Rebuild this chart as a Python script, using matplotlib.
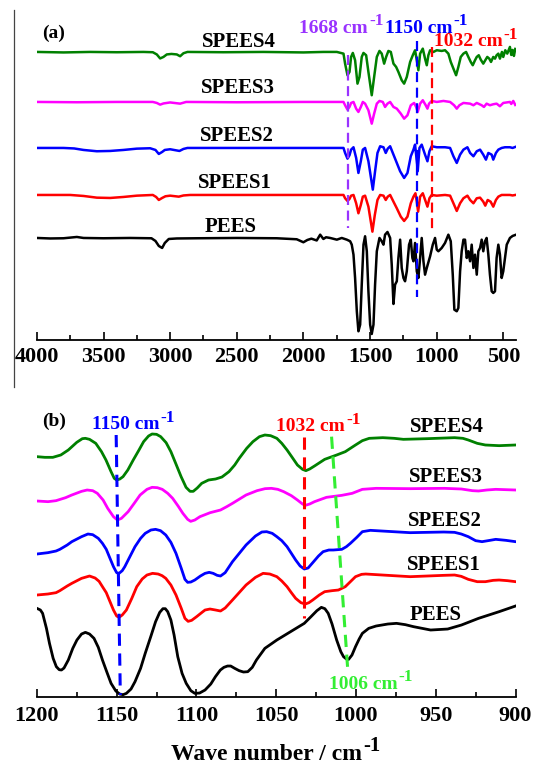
import matplotlib
matplotlib.use('Agg')
import matplotlib.pyplot as plt
import numpy as np
from matplotlib.lines import Line2D
from matplotlib.ticker import MultipleLocator

plt.rcParams['font.family'] = ['Liberation Serif', 'DejaVu Serif']
plt.rcParams['font.weight'] = 'bold'
plt.rcParams['axes.labelweight'] = 'bold'

# ---------------- panel (a): 4000-400 cm-1, (wavenumber, depth below baseline) ----------------
SPEES4_A = [
    (4000, 0), (3800, 0.5), (3600, 0), (3400, 0.3), (3200, 0), (3130, 0.3), (3100, 2.5), (3075, 6.5),
    (3050, 5), (3025, 2.5), (2990, 2), (2950, 2.5), (2925, 4.3), (2900, 1.3), (2870, 0), (2600, 0.3),
    (2300, 0), (2000, 0.5), (1850, 0), (1749, 0), (1699, 1.7), (1687, 11.7), (1669, 23.3), (1654, 20),
    (1642, 5), (1629, 1), (1612, 8.3), (1594, 31.7), (1579, 25), (1562, 5), (1549, 1), (1529, 3.3),
    (1512, 20), (1487, 43.3), (1469, 25), (1449, 5), (1429, -1), (1412, 1.7), (1394, 11.7), (1379, 5),
    (1362, -1), (1344, 0), (1324, 11.7), (1304, 15), (1287, 20), (1262, 28.3), (1244, 31.7), (1224, 25),
    (1199, 10), (1179, 3.3), (1162, -1.7), (1149, 8.3), (1137, 18.3), (1124, 1.7), (1104, -3.3),
    (1087, 6.7), (1074, 13.3), (1062, 3.3), (1049, -1.7), (1024, 0), (999, -1.7), (962, -1), (937, -1.7),
    (912, 1.7), (894, 10), (874, 16.7), (854, 23.3), (837, 15), (819, 5), (799, 1.7), (779, 0), (762, 5),
    (744, 10), (729, 13.3), (712, 8.3), (699, 5), (684, 3.3), (669, 7.7), (650, 11.7), (635, 8.3),
    (620, 5), (605, 6.7), (592, 10), (575, 5), (562, 6.7), (550, 3.3), (537, 1.7), (525, 6.7), (510, 0),
    (500, 5), (485, -1.7), (470, 1.7), (450, -5), (440, 3), (430, -2), (420, 4), (410, -3),
]
SPEES3_A = [
    (4000, 0), (3700, 0.3), (3400, 0), (3130, 0), (3100, 1), (3075, 2.7), (3050, 1.5), (3000, 0.5),
    (2925, 1.7), (2880, 0), (2500, 0.3), (2000, 0), (1800, 0), (1699, 0), (1687, 3.3), (1669, 7.7),
    (1654, 5), (1642, 1), (1624, 0), (1604, 6.7), (1587, 10), (1569, 5), (1554, 0), (1537, 1.7),
    (1512, 8.3), (1487, 21.7), (1469, 11.7), (1449, 1.7), (1429, -1), (1404, 0), (1387, 5), (1369, 1.7),
    (1349, 0), (1324, 5), (1299, 6.7), (1269, 11.7), (1244, 16.7), (1219, 13.3), (1194, 3.3), (1169, 1),
    (1154, 5), (1142, 10), (1124, 1.7), (1104, -1.7), (1082, 3.3), (1069, 6.7), (1057, 1.7), (1037, -1),
    (999, 0), (949, -1), (899, 0), (869, 3.3), (849, 6.7), (829, 3.3), (799, 1), (749, 1.7), (724, 3.3),
    (699, 1), (662, 3.3), (645, 5), (625, 1.7), (600, 3.3), (575, 2.3), (550, 1.7), (525, 4.3), (500, 1),
    (450, 0), (440, 2), (425, -1), (410, 3),
]
SPEES2_A = [
    (4000, 0), (3800, 0), (3720, 0.5), (3650, 2), (3550, 3.3), (3450, 3), (3350, 2), (3250, 0.7),
    (3150, 0.3), (3110, 2), (3085, 6), (3060, 4), (3040, 2), (3000, 1.3), (2930, 3), (2900, 1), (2870, 0),
    (2500, 0), (2000, 0), (1800, 0), (1699, 0), (1687, 5), (1669, 10.7), (1654, 7.3), (1642, 1.7),
    (1624, -0.7), (1604, 10), (1587, 25), (1569, 13.3), (1554, 1.7), (1537, 0), (1512, 13.3), (1479, 41.7),
    (1462, 23.3), (1444, 5), (1424, -1.7), (1399, -0.7), (1382, 5), (1367, 0.7), (1349, -1.7), (1329, 5),
    (1304, 13.3), (1274, 23.3), (1244, 30), (1219, 25), (1194, 8.3), (1174, 1.7), (1162, -3.3), (1154, 6.7),
    (1142, 23.3), (1129, 0), (1112, -3.3), (1087, 6.7), (1069, 13.3), (1054, 3.3), (1037, -1.7), (999, -0.7),
    (937, -0.7), (899, 0), (874, 8.3), (849, 15), (824, 6.7), (799, 1.7), (769, -0.7), (749, 5), (724, 8.3),
    (699, 3.3), (674, 1.7), (650, 6.7), (630, 11.7), (612, 5), (587, 6.7), (575, 11.7), (555, 5), (537, 1.7),
    (512, 0), (487, -0.7), (450, -0.7), (430, 0), (410, -1),
]
SPEES1_A = [
    (4000, 0), (3750, 0), (3650, 1), (3550, 2.7), (3450, 3), (3350, 2), (3250, 0.7), (3130, 0), (3105, 2),
    (3085, 5), (3060, 3), (3035, 1.3), (3000, 0.7), (2935, 1.7), (2900, 0.5), (2850, 0), (2500, 0), (2000, 0),
    (1800, 0), (1699, 0), (1687, 3.3), (1669, 6), (1654, 4), (1642, 0.7), (1624, 0), (1604, 8.3), (1587, 18.3),
    (1569, 10), (1554, 1.7), (1537, 0.7), (1512, 11.7), (1482, 36.7), (1464, 20), (1444, 5), (1424, 0),
    (1399, 0.7), (1382, 5), (1367, 1.7), (1349, 0), (1324, 6.7), (1299, 13.3), (1269, 21.7), (1244, 26),
    (1219, 21.7), (1194, 8.3), (1174, 1.7), (1159, -1.7), (1149, 6.7), (1139, 16.7), (1124, 1.7), (1104, -1.7),
    (1082, 6.7), (1069, 11.7), (1054, 3.3), (1037, 0), (999, 0.7), (937, 0), (899, 0.7), (874, 8.3), (849, 16),
    (824, 8.3), (799, 3.3), (769, 0.7), (749, 5), (724, 8.3), (699, 3.3), (674, 2.7), (650, 6.7), (635, 10.7),
    (617, 5), (595, 6.7), (575, 11.7), (555, 5), (537, 1.7), (512, 0), (450, 0), (430, 0.5), (410, 0),
]
PEES_A = [
    (4000, 0), (3900, 0.5), (3800, 0.3), (3700, -1), (3650, 0), (3500, 0.3), (3300, 0), (3140, 0.3),
    (3110, 3), (3085, 8), (3060, 10), (3040, 5), (3010, 1), (2950, 0.5), (2800, 0.3), (2500, 0), (2200, 0.3),
    (2050, 1.3), (2000, 4.3), (1970, 2), (1940, 0.7), (1900, 2.5), (1874, -3.3), (1850, 1), (1830, -0.7),
    (1799, 0), (1749, 1.7), (1712, 0), (1674, 1.7), (1649, 3.3), (1637, 6.7), (1624, 16.7), (1612, 40),
    (1599, 73.3), (1587, 93.3), (1574, 86.7), (1562, 46.7), (1549, 6.7), (1537, -1.7), (1524, 13.3),
    (1512, 53.3), (1499, 86.7), (1487, 96), (1474, 86.7), (1462, 46.7), (1449, 13.3), (1429, 0), (1412, 3.3),
    (1399, 6.7), (1387, -3.3), (1369, -6), (1349, 0), (1337, 26.7), (1324, 66), (1312, 46.7), (1299, 43.3),
    (1287, 20), (1274, 1.7), (1262, 30), (1249, 40), (1237, 43.3), (1224, 33.3), (1207, 6.7), (1194, 1.7),
    (1182, 20), (1174, 23.3), (1162, 5), (1149, 33.3), (1137, 40), (1124, 20), (1112, 0), (1099, 23.3),
    (1087, 36.7), (1074, 30), (1049, 18.3), (1029, 6.7), (1012, 0), (999, 11.7), (987, 13.3), (962, 10),
    (937, 5), (912, -3.3), (894, 3.3), (879, 36.7), (867, 71.7), (849, 73.3), (837, 70), (824, 33.3),
    (812, 13.3), (799, 1.7), (787, 1.7), (774, 20), (762, 13.3), (749, 23.3), (737, 6.7), (724, 30),
    (712, 16.7), (699, 36.7), (687, 13.3), (674, 10), (662, 1.7), (650, 13.3), (637, 3.3), (625, 0),
    (612, 16.7), (600, 36.7), (587, 53.3), (575, 55), (562, 53.3), (550, 20), (537, 6.7), (525, 16.7),
    (512, 40), (500, 33.3), (487, 20), (474, 6.7), (450, 0), (430, -2), (410, -3),
]
A_SPECTRA = [SPEES4_A, SPEES3_A, SPEES2_A, SPEES1_A, PEES_A]
A_OFFSETS = [288, 238, 192, 145, 102]

# ---------------- panel (b): 1200-900 cm-1, (wavenumber, intensity) ----------------
SPEES4_B = [
    (1200, 72.0), (1195, 71.8), (1190, 71.8), (1185, 72.5), (1180.3, 74.0), (1175, 76.3), (1171.5, 77.4),
    (1169.6, 77.5), (1167, 77.2), (1163.1, 76.0), (1159.5, 73.5), (1156.7, 71.0), (1153.5, 67.5),
    (1151.5, 65.5), (1150, 65.0), (1148, 65.3), (1146, 66.0), (1143, 68.0), (1139.6, 71.0), (1136, 74.0),
    (1133.1, 76.5), (1130, 78.2), (1127.8, 78.8), (1125, 78.7), (1122.4, 78.0), (1119, 76.2), (1116, 73.5),
    (1113, 70.0), (1109.6, 66.0), (1106.5, 62.8), (1104, 61.6), (1102, 61.6), (1099.5, 62.6), (1096.7, 64.0),
    (1092.4, 65.0), (1088, 65.3), (1084, 65.9), (1079.6, 67.5), (1076, 69.5), (1073.2, 71.5), (1068.5, 74.5),
    (1064.6, 76.5), (1060.5, 78.0), (1057.1, 78.5), (1053.5, 78.3), (1049.6, 77.5), (1046.5, 76.0),
    (1043.2, 74.0), (1040, 71.8), (1036.7, 69.5), (1033.5, 68.2), (1031.4, 67.8), (1029, 68.3), (1026, 69.2),
    (1019.6, 71.2), (1012.1, 72.5), (1006.7, 73.5), (1003.5, 74.5), (1000.3, 75.5), (996, 76.8),
    (991.7, 77.5), (983.2, 77.7), (976, 77.5), (970.3, 77.2), (955.3, 77.4), (938.2, 77.7), (933, 77.5),
    (929.6, 77.0), (924, 76.0), (918.9, 75.5), (910.3, 75.3), (900, 75.5),
]
SPEES3_B = [
    (1200, 58.7), (1193, 58.5), (1188, 58.8), (1182, 59.7), (1178.1, 60.5), (1172, 61.6), (1168.5, 62.0),
    (1165, 61.8), (1162.1, 61.0), (1158.5, 59.0), (1155.6, 56.5), (1152, 54.0), (1149.5, 53.0), (1147, 53.5),
    (1142.8, 55.5), (1139, 58.0), (1135.3, 60.5), (1131, 62.2), (1127.8, 62.8), (1124.5, 62.7), (1121.4, 62.2),
    (1118, 61.0), (1114.9, 59.5), (1111.5, 57.2), (1108.5, 55.0), (1105.5, 53.2), (1103.6, 52.6), (1101, 53.0),
    (1097.8, 54.0), (1091.4, 55.2), (1084.9, 56.0), (1081, 57.0), (1077.4, 58.0), (1068.9, 60.5), (1062, 61.8),
    (1057, 62.4), (1053, 62.5), (1049, 62.2), (1045.3, 61.5), (1040.5, 60.3), (1036.7, 59.0), (1033.5, 57.8),
    (1031.8, 57.4), (1029, 57.8), (1026, 58.5), (1018.5, 59.8), (1008.9, 60.4), (1002.4, 61.0), (996, 62.2),
    (987.4, 62.5), (966, 62.4), (944.6, 62.5), (933.9, 62.3), (927, 61.8), (923.2, 61.7), (918, 62.0),
    (912.4, 62.2), (900, 62.0),
]
SPEES2_B = [
    (1200, 42.8), (1193.1, 43.2), (1188, 43.7), (1185.6, 44.2), (1181, 45.5), (1178.1, 46.5), (1172, 48.0),
    (1168, 48.8), (1165, 48.6), (1161.5, 47.5), (1158.9, 46.0), (1156.5, 44.2), (1154.6, 42.0), (1152, 39.0),
    (1150, 37.2), (1148.5, 37.0), (1146.5, 37.8), (1144.9, 39.0), (1141.5, 42.2), (1138.5, 45.0), (1135, 47.5),
    (1132.1, 49.0), (1128.5, 50.0), (1125.6, 50.2), (1122.5, 49.8), (1119.2, 48.5), (1116, 46.3),
    (1112.8, 43.0), (1109.5, 38.5), (1107.2, 35.2), (1105.5, 34.3), (1103.5, 34.4), (1101, 35.0),
    (1097.5, 36.2), (1094.6, 37.0), (1092, 37.3), (1089.5, 37.0), (1087, 36.4), (1084.9, 36.2), (1082, 37.2),
    (1077.4, 40.5), (1068.9, 45.5), (1063, 48.2), (1059, 49.4), (1056, 49.5), (1052.5, 49.0), (1049.6, 48.0),
    (1046.5, 46.8), (1043.2, 45.0), (1040.5, 43.0), (1037.8, 41.0), (1035, 39.2), (1032.4, 38.3), (1030, 38.6),
    (1027.1, 40.2), (1023.5, 42.2), (1020.6, 43.5), (1017, 44.0), (1014.2, 44.0), (1008.9, 44.2), (1006, 45.0),
    (1003.5, 46.0), (999.5, 47.8), (996, 49.5), (991, 49.9), (987.4, 49.8), (966, 49.2), (945, 49.4),
    (938.2, 49.3), (934, 48.8), (929.6, 48.0), (925, 46.8), (921, 46.5), (916, 46.9), (912.4, 47.2),
    (906, 46.9), (900, 46.5),
]
SPEES1_B = [
    (1200, 30.5), (1193.1, 30.8), (1188, 31.2), (1185.6, 31.8), (1181, 33.2), (1178.1, 34.0), (1172, 35.5),
    (1167, 36.2), (1163.5, 35.6), (1161, 34.6), (1158.9, 33.0), (1156.5, 31.2), (1154.6, 29.0), (1152, 26.0),
    (1150, 24.2), (1148.5, 23.8), (1146.5, 24.5), (1143.9, 26.0), (1140.5, 29.5), (1137.4, 33.0), (1134, 35.3),
    (1131, 36.5), (1127.5, 37.0), (1124, 36.8), (1121.5, 36.3), (1119.2, 35.5), (1116, 33.5), (1112.8, 30.5),
    (1109.5, 26.5), (1107.2, 23.5), (1105.2, 22.6), (1103, 22.9), (1099.9, 24.0), (1096.5, 25.3),
    (1094.6, 26.0), (1091.5, 26.3), (1088, 26.0), (1084.9, 25.7), (1082, 26.6), (1077.4, 29.0), (1068.9, 33.5),
    (1063, 35.8), (1058.2, 37.0), (1054, 36.8), (1049.6, 36.0), (1046.5, 34.7), (1043.2, 33.0), (1040.5, 31.2),
    (1037.8, 29.5), (1034.5, 28.2), (1031.8, 27.8), (1029.5, 28.2), (1027.1, 29.0), (1023, 30.5),
    (1019.6, 31.5), (1015, 31.8), (1011, 32.0), (1006.7, 33.0), (1003.5, 34.5), (1000.3, 36.0), (996.5, 36.7),
    (993.9, 36.8), (980, 36.4), (966, 36.0), (945, 36.4), (938.2, 36.5), (934, 36.1), (929.6, 35.2), (924, 34.5),
    (918.9, 34.5), (914, 34.9), (910.3, 35.0), (905, 34.8), (900, 34.5),
]
PEES_B = [
    (1200, 26.5), (1197.8, 26.0), (1196.4, 25.0), (1194, 20.5), (1192.1, 16.0), (1189.8, 11.5), (1187.8, 9.0),
    (1186, 8.1), (1184.6, 8.0), (1183, 8.6), (1180.3, 11.0), (1177.5, 14.5), (1174.9, 17.0), (1172, 18.8),
    (1169.6, 19.3), (1167, 18.8), (1164.2, 17.5), (1161.5, 14.8), (1158.9, 11.0), (1156, 7.2), (1153.5, 4.0),
    (1150.5, 1.7), (1148.1, 0.8), (1146, 0.6), (1143.9, 1.0), (1141, 2.3), (1138.5, 4.5), (1135, 8.5),
    (1132.1, 13.0), (1128.5, 18.2), (1125.6, 22.5), (1123, 25.3), (1121, 26.4), (1119.5, 26.4), (1118, 25.5),
    (1116, 23.0), (1114, 18.5), (1111.7, 12.0), (1109, 7.0), (1106.4, 4.0), (1103.5, 1.8), (1101, 1.0),
    (1098, 1.1), (1094.6, 2.0), (1091, 3.8), (1088.1, 6.0), (1085, 8.0), (1082.8, 8.8), (1080.5, 9.2),
    (1078.5, 9.2), (1076, 8.5), (1073.2, 7.8), (1070.5, 7.4), (1067.8, 7.5), (1065, 8.8), (1062.4, 11.0),
    (1057.1, 14.5), (1049.6, 17.0), (1041, 19.5), (1032.4, 22.0), (1028.2, 24.0), (1024.5, 25.8),
    (1021.7, 26.8), (1019.5, 26.4), (1017.4, 25.0), (1015, 21.8), (1012.1, 17.0), (1009.5, 13.5),
    (1007.8, 12.0), (1006, 11.3), (1004.6, 11.2), (1002.5, 12.5), (1000.3, 15.0), (998, 17.3), (996, 19.0),
    (992, 20.5), (987.4, 21.2), (980, 21.8), (974.6, 22.0), (969, 21.6), (963.9, 21.0), (953.2, 20.0),
    (942.5, 20.3), (933.9, 21.5), (923.2, 23.5), (910.3, 25.5), (900, 27.2),
]
B_SPECTRA = [SPEES4_B, SPEES3_B, SPEES2_B, SPEES1_B, PEES_B]

NAMES = ['SPEES4', 'SPEES3', 'SPEES2', 'SPEES1', 'PEES']
COLORS = ['#008000', '#FF00FF', '#0000FF', '#FF0000', '#000000']

PURPLE = '#9933FF'
LIME = '#33EE33'


def cm_label(ax, x, y, num, color, size=14, sup_size=12.5):
    t = ax.text(x, y, f'{num} cm', color=color, fontsize=size, ha='left', va='center')
    ax.annotate('-1', xy=(1, 1), xycoords=t, xytext=(1, -4), textcoords='offset points',
                color=color, fontsize=sup_size, ha='left', va='baseline')
    return t


def style_axis(ax, major, minor, pad):
    for side in ['left', 'top', 'right']:
        ax.spines[side].set_visible(False)
    ax.spines['bottom'].set_linewidth(1.3)
    ax.set_yticks([])
    ax.xaxis.set_major_locator(MultipleLocator(major))
    ax.xaxis.set_minor_locator(MultipleLocator(minor))
    ax.tick_params(axis='x', which='major', direction='in', length=6, width=1.2, labelsize=16, pad=pad)
    ax.tick_params(axis='x', which='minor', direction='in', length=3.5, width=1.2)
    ax.set_facecolor('none')


fig = plt.figure(figsize=(5.36, 7.64), dpi=100)
ax_a = fig.add_axes([0.0688, 0.555, 0.893, 0.432])
ax_b = fig.add_axes([0.0688, 0.0881, 0.893, 0.3962])

# panel (a)
for pts, off, color in zip(A_SPECTRA, A_OFFSETS, COLORS):
    w, d = np.array(pts).T
    ax_a.plot(w, off - d, color=color, lw=1.8, solid_joinstyle='round')
ax_a.set_xlim(4000, 408)
ax_a.set_ylim(0, 330)
style_axis(ax_a, 500, 250, 5)

for name, (x, y) in zip(NAMES, [(2484, 298.3), (2490, 251.7), (2501, 204), (2511, 156.7), (2543, 113.3)]):
    ax_a.text(x, y, name, fontsize=15, ha='center', va='center')
ax_a.text(3960, 306.7, '(a)', fontsize=14, ha='left', va='center')

ax_a.plot([1668, 1668], [285, 111.7], color=PURPLE, lw=1.6, dashes=(4.5, 2.5))
ax_a.plot([1150, 1150], [299.3, 43.3], color='#0000FF', lw=1.6, dashes=(4.5, 2.5))
ax_a.plot([1032, 1032], [293.3, 110], color='#FF0000', lw=1.6, dashes=(4.5, 2.5))
cm_label(ax_a, 2031, 311.7, 1668, PURPLE)
cm_label(ax_a, 1390, 311.7, 1150, '#0000FF')
cm_label(ax_a, 1023, 298.3, 1032, '#FF0000')

# panel (b)
for pts, color in zip(B_SPECTRA, COLORS):
    w, v = np.array(pts).T
    ax_b.plot(w, v, color=color, lw=2.0, solid_joinstyle='round')
ax_b.set_xlim(1200, 900)
ax_b.set_ylim(0, 90.8)
style_axis(ax_b, 50, 25, 7)

for name, (x, y) in zip(NAMES, [(943, 81), (943.6, 65.8), (944.3, 52.8), (944.9, 39.5), (950.1, 24.5)]):
    ax_b.text(x, y, name, fontsize=15, ha='center', va='center')
ax_b.text(1197, 82.5, '(b)', fontsize=14, ha='left', va='center')

ax_b.plot([1150.3, 1147.7], [78.5, 0.5], color='#0000FF', lw=2.2, dashes=(4, 2.5))
ax_b.plot([1032.4, 1032.4], [78, 23.5], color='#FF0000', lw=2.2, dashes=(4, 2.5))
ax_b.plot([1015.3, 1005], [78, 7.0], color=LIME, lw=2.2, dashes=(4, 2.5))
cm_label(ax_b, 1165.5, 81.5, 1150, '#0000FF')
cm_label(ax_b, 1050.2, 81, 1032, '#FF0000')
cm_label(ax_b, 1017, 3.8, 1006, LIME)

ax_b.set_xlabel('Wave number / cm', fontsize=17, fontweight='bold')
ax_b.xaxis.set_label_coords(0.48, -0.155)
ax_b.annotate('-1', xy=(1, 1), xycoords=ax_b.xaxis.label, xytext=(1, -5), textcoords='offset points',
              fontsize=15, fontweight='bold', ha='left', va='baseline')

# thin vertical frame line on the left of the top panel
fig.add_artist(Line2D([0.0269, 0.0269], [0.987, 0.494], color='#444444', lw=0.9))

fig.savefig('out.png', dpi=100)
